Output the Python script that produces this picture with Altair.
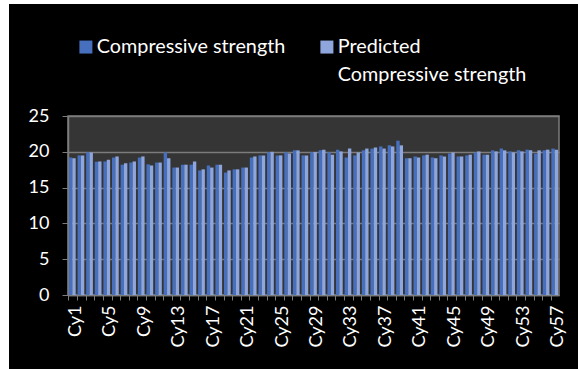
import altair as alt
import pandas as pd

# Specimen labels Cy1 .. Cy57
categories = [f"Cy{i}" for i in range(1, 58)]

measured = [19.2, 19.5, 19.95, 18.6, 18.65, 19.2, 18.2, 18.5, 19.2, 18.25,
            18.5, 19.95, 17.8, 18.2, 18.2, 17.4, 18.1, 18.2, 17.1, 17.55,
            17.8, 19.2, 19.5, 19.95, 19.5, 19.95, 20.2, 19.5, 19.95, 20.2,
            19.95, 20.3, 19.2, 19.5, 20.2, 20.45, 20.75, 20.9, 21.55, 19.1,
            19.35, 19.5, 19.2, 19.5, 19.75, 19.35, 19.5, 19.9, 19.6, 20.2,
            20.45, 20.05, 20.2, 20.3, 19.75, 20.2, 20.45]

predicted = [19.1, 19.5, 19.9, 18.65, 18.9, 19.35, 18.4, 18.65, 19.35, 18.1,
             18.5, 19.1, 17.8, 18.2, 18.65, 17.55, 17.8, 18.2, 17.4, 17.55,
             17.8, 19.35, 19.5, 20.0, 19.5, 19.75, 20.2, 19.5, 19.95, 20.3,
             19.6, 20.05, 20.45, 19.9, 20.45, 20.6, 20.45, 20.75, 20.9, 19.1,
             19.2, 19.6, 19.1, 19.35, 19.9, 19.35, 19.6, 20.05, 19.6, 20.05,
             20.2, 19.9, 20.05, 20.2, 20.2, 20.3, 20.3]

series_names = ["Compressive strength", "Predicted Compressive strength"]
series_colors = ["#4670BE", "#8FA6DD"]
y_ticks = [0, 5, 10, 15, 20, 25]

rows = []
for cat, m, p in zip(categories, measured, predicted):
    rows.append({"specimen": cat, "series": series_names[0], "value": m})
    rows.append({"specimen": cat, "series": series_names[1], "value": p})
df = pd.DataFrame(rows)

FONT = "Lato"
GRID = "#7C7C7C"

# two-line legend labels; the first line sits beside the swatch
legend_label_expr = (
    "datum.label == 'Predicted Compressive strength'"
    " ? ['Predicted', 'Compressive strength']"
    " : [datum.label, ' ']"
)

bars = alt.Chart(df).mark_bar().encode(
    x=alt.X(
        "specimen:N",
        sort=categories,
        scale=alt.Scale(paddingInner=0.22, paddingOuter=0.11),
        axis=alt.Axis(
            title=None,
            labelAngle=270,
            labelColor="white",
            labelFont=FONT,
            labelFontSize=18,
            labelPadding=5,
            labelOverlap=False,
            labelExpr="(toNumber(slice(datum.label, 2)) - 1) % 4 == 0 ? datum.label : ''",
            bandPosition=0,
            labelOffset=3.5,
            tickColor=GRID,
            tickSize=5,
            domainColor=GRID,
            domainWidth=1.5,
            grid=False,
        ),
    ),
    xOffset=alt.XOffset("series:N", sort=series_names, scale=alt.Scale(paddingInner=0, paddingOuter=0)),
    y=alt.Y(
        "value:Q",
        scale=alt.Scale(domain=[0, 25], nice=False),
        axis=alt.Axis(
            title=None,
            values=y_ticks,
            labelColor="white",
            labelFont=FONT,
            labelFontSize=18,
            labelPadding=13,
            tickColor=GRID,
            tickSize=6,
            domainColor=GRID,
            domainWidth=1.5,
            gridColor=GRID,
            gridWidth=1.5,
        ),
    ),
    color=alt.Color(
        "series:N",
        sort=series_names,
        scale=alt.Scale(domain=series_names, range=series_colors),
        legend=alt.Legend(
            title=None,
            orient="none",
            legendX=8,
            legendY=-79,
            direction="horizontal",
            symbolType="square",
            symbolSize=169,
            symbolStrokeWidth=0,
            labelColor="white",
            labelFont=FONT,
            labelFontSize=19.8,
            labelLimit=400,
            labelOffset=1,
            labelBaseline="middle",
            labelExpr=legend_label_expr,
            columnPadding=31,
        ),
    ),
)

# white page margin around the black chart panel
frame = alt.Chart(pd.DataFrame({"k": [0]})).mark_rect(color="white").encode(
    x=alt.value(-68), x2=alt.value(-59), y=alt.value(-116), y2=alt.value(253)
)
frame_top = alt.Chart(pd.DataFrame({"k": [0]})).mark_rect(color="white").encode(
    x=alt.value(-68), x2=alt.value(510), y=alt.value(-116), y2=alt.value(-112)
)

chart = alt.layer(bars, frame, frame_top).properties(
    width=491,
    height=179,
    background="black",
    padding={"left": 68, "top": 116, "right": 19, "bottom": 74},
    autosize=alt.AutoSizeParams(type="none"),
).configure(
    style={"guide-label": {"lineHeight": 28}},
).configure_view(
    fill="#353535",
    stroke=GRID,
    strokeWidth=1.5,
)

chart.save("out.html", embed_options={"renderer": "svg", "actions": False})
